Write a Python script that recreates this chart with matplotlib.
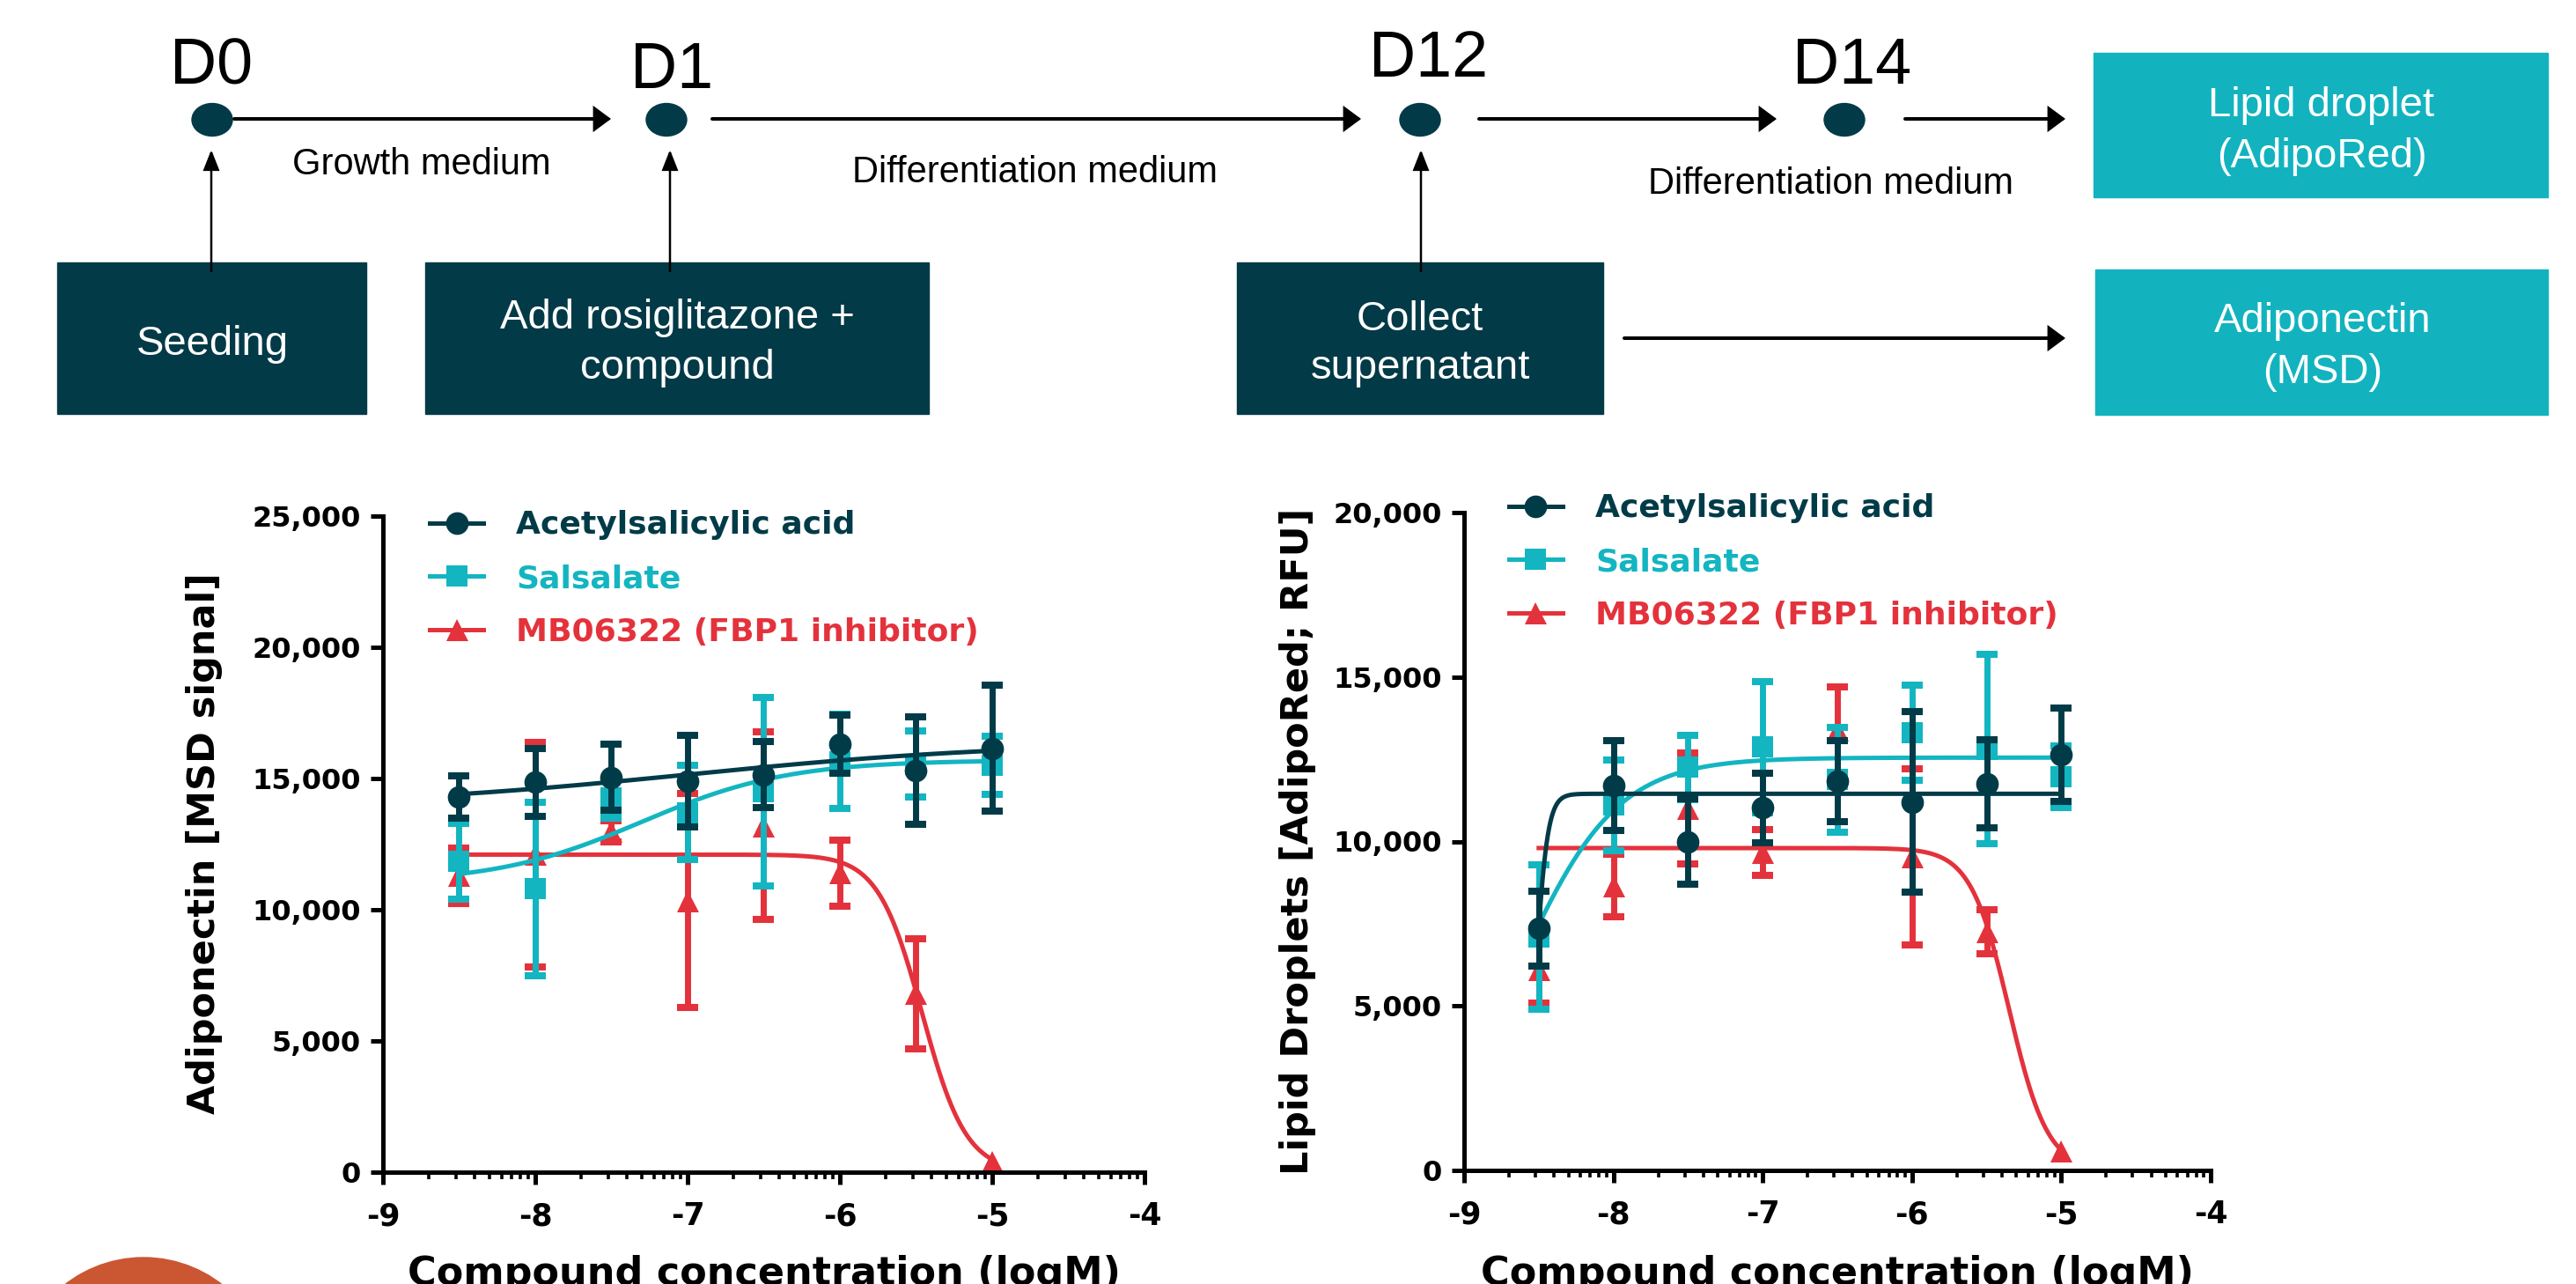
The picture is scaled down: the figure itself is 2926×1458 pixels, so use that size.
import numpy as np
import matplotlib
matplotlib.use('Agg')
import matplotlib.pyplot as plt
from matplotlib.patches import Rectangle, Ellipse, Circle, FancyArrowPatch
from matplotlib.lines import Line2D
from matplotlib.ticker import FixedLocator, FuncFormatter

# --- Configuration ---
W, H, DPI = 2926, 1458, 100
DARK = '#023b48'
CYAN = '#13b5c1'
RED = '#e4323c'
BOX_DARK = '#033a47'
BOX_TEAL = '#12b3bf'
ORANGE = '#cb5632'
NAN = float('nan')

plt.rcParams['font.family'] = 'DejaVu Sans'
plt.rcParams['axes.unicode_minus'] = False

# --- Data (log10 of molar concentration) ---
log_conc = [-8.5, -8.0, -7.5, -7.0, -6.5, -6.0, -5.5, -5.0]
series_labels = ['Acetylsalicylic acid', 'Salsalate', 'MB06322 (FBP1 inhibitor)']

# Adiponectin [MSD signal]: mean and SD
adipo_asa = [14300, 14850, 15050, 14900, 15150, 16300, 15300, 16150]
adipo_asa_err = [800, 1300, 1250, 1750, 1250, 1100, 2050, 2400]
adipo_sal = [11850, 10800, 14000, 13700, 14500, 15650, 15550, 15500]
adipo_sal_err = [1450, 3300, 520, 1800, 3600, 1800, 1250, 1100]
adipo_mb = [11300, 12100, 13000, 10350, 13200, 11400, 6800, 400]
adipo_mb_err = [1050, 4280, 400, 4080, 3580, 1260, 2100, NAN]

# Lipid droplets [AdipoRed; RFU]: mean and SD
lipid_asa = [7350, 11700, 10000, 11020, 11830, 11200, 11750, 12630]
lipid_asa_err = [1150, 1360, 1290, 1060, 1240, 2750, 1330, 1420]
lipid_sal = [7100, 11100, 12250, 12870, 11880, 13300, 12800, 11960]
lipid_sal_err = [2200, 1380, 980, 2000, 1600, 1450, 2880, 940]
lipid_mb = [6100, 8650, 11000, 9670, 13400, 9530, 7250, 600]
lipid_mb_err = [1000, 950, 1690, 690, 1300, 2680, 670, NAN]

# fitted 4PL curves: bottom, top, logEC50, hill slope
adipo_fit_asa = (13900, 16400, -7.0, 0.4)
adipo_fit_sal = (11000, 15700, -7.3, 0.9)
adipo_fit_mb = (0, 12100, -5.46, -3.0)
lipid_fit_asa = (0, 11450, -8.524, 10.7)
lipid_fit_sal = (0, 12550, -8.626, 1.33)
lipid_fit_mb = (0, 9800, -5.35, -3.36)


def four_pl(x, bottom, top, logec50, hill):
    return bottom + (top - bottom) / (1 + 10 ** ((logec50 - x) * hill))


fig = plt.figure(figsize=(W / DPI, H / DPI), dpi=DPI)
fig.patch.set_facecolor('white')

# --- Workflow diagram (pixel coordinates, y down) ---
bg = fig.add_axes([0, 0, 1, 1], zorder=0)
bg.set_xlim(0, W)
bg.set_ylim(H, 0)
bg.axis('off')

DIAG_FONT = 'Liberation Sans'

for name, x, base in [('D0', 240, 95), ('D1', 763, 100), ('D12', 1623, 87), ('D14', 2104, 95)]:
    bg.text(x, base, name, fontsize=53, family=DIAG_FONT, ha='center', va='baseline', color='black')

for x in [241, 757, 1613, 2095]:
    bg.add_patch(Ellipse((x, 136), 46, 37, color=BOX_DARK, zorder=3))


def arrow(p0, p1, lw=2.9, hl=10.8, hw=8.0):
    bg.add_patch(FancyArrowPatch(p0, p1, arrowstyle=f'-|>,head_length={hl},head_width={hw}',
                                 mutation_scale=1, lw=lw, color='black', shrinkA=0, shrinkB=0,
                                 joinstyle='miter', zorder=4))


for x0, x1 in [(266, 694), (809, 1546), (1680, 2018), (2164, 2346)]:
    arrow((x0, 135), (x1, 135))
arrow((1845, 384), (2346, 384))
for x in [240, 761, 1614]:
    arrow((x, 308), (x, 170), lw=1.8, hl=14, hw=5.5)

for txt, x, base in [('Growth medium', 479, 198), ('Differentiation medium', 1176, 207),
                     ('Differentiation medium', 2080, 220)]:
    bg.text(x, base, txt, fontsize=30, family=DIAG_FONT, ha='center', va='baseline')

boxes = [
    ((65, 298, 416, 470), BOX_DARK, [('Seeding', 403)], 241),
    ((483, 298, 1055, 470), BOX_DARK, [('Add rosiglitazone +', 373), ('compound', 430)], 769),
    ((1405, 298, 1821, 470), BOX_DARK, [('Collect', 375), ('supernatant', 430)], 1613),
    ((2378, 60, 2894, 224), BOX_TEAL, [('Lipid droplet', 132), ('(AdipoRed)', 190)], 2637),
    ((2380, 306, 2894, 471), BOX_TEAL, [('Adiponectin', 377), ('(MSD)', 435)], 2638),
]
for (x0, y0, x1, y1), col, lines, cx in boxes:
    bg.add_patch(Rectangle((x0, y0), x1 - x0, y1 - y0, color=col, zorder=2))
    for txt, base in lines:
        bg.text(cx, base, txt, fontsize=34, family=DIAG_FONT, color='white',
                ha='center', va='baseline', zorder=5)

# decorative circle in the lower left corner
bg.add_patch(Circle((163, 1573), 145, color=ORANGE, zorder=1))

# --- Dose-response panels ---
styles = [(RED, '^', 18, 2), (CYAN, 's', 17, 3), (DARK, 'o', 18.5, 4)]
minor_ticks = [d + np.log10(k) for d in range(-9, -4) for k in range(2, 10)]


def draw_panel(rect, series, fits, ymax, ystep, legend_anchor):
    ax = fig.add_axes(rect, zorder=2)
    ax.patch.set_alpha(0)
    xs = np.linspace(log_conc[0], log_conc[-1], 400)
    for (vals, errs), fit, (col, mk, ms, z) in zip(series, fits, styles):
        ax.plot(xs, four_pl(xs, *fit), color=col, lw=3.6, zorder=z)
        eb = ax.errorbar(log_conc, vals, yerr=errs, fmt=mk, ms=ms, color=col, ecolor=col,
                         elinewidth=5, capsize=8.3, capthick=5.8, zorder=z + 0.1)
        eb[0].set_markeredgewidth(0)
        for cap in eb[1]:
            cap.set_markeredgewidth(5.8)

    ax.set_xlim(-9, -4)
    ax.set_ylim(0, ymax)
    for s in ['top', 'right']:
        ax.spines[s].set_visible(False)
    for s in ['left', 'bottom']:
        ax.spines[s].set_linewidth(3.6)
    ax.set_xticks(range(-9, -3))
    ax.xaxis.set_minor_locator(FixedLocator(minor_ticks))
    ax.set_yticks(np.arange(0, ymax + 1, ystep))
    ax.xaxis.set_major_formatter(FuncFormatter(lambda v, _: f'{v:.0f}'))
    ax.yaxis.set_major_formatter(FuncFormatter(lambda v, _: f'{v:,.0f}'))
    ax.tick_params(axis='both', which='major', direction='out', length=10, width=3.6,
                   labelsize=23)
    ax.tick_params(axis='x', which='major', labelsize=25, pad=14)
    ax.tick_params(axis='y', which='major', pad=8)
    ax.tick_params(axis='x', which='minor', direction='out', length=6, width=2.6)
    for lab in ax.get_xticklabels() + ax.get_yticklabels():
        lab.set_fontweight('bold')

    handles = [Line2D([0], [0], color=col, marker=mk, ms=ms, lw=3.6, mew=0)
               for col, mk, ms, z in reversed(styles)]
    leg = ax.legend(handles, series_labels, loc='upper left', bbox_to_anchor=legend_anchor,
                    frameon=False, borderpad=0, borderaxespad=0, handlelength=1.69,
                    handletextpad=1.03, labelspacing=0.74, numpoints=1,
                    prop={'weight': 'bold', 'size': 26})
    for t, (col, mk, ms, z) in zip(leg.get_texts(), reversed(styles)):
        t.set_color(col)
    return ax


draw_panel([435 / W, 127 / H, 865 / W, 745 / H],
           [(adipo_mb, adipo_mb_err), (adipo_sal, adipo_sal_err), (adipo_asa, adipo_asa_err)],
           [adipo_fit_mb, adipo_fit_sal, adipo_fit_asa], 25000, 5000, (0.0613, 1.009))
draw_panel([1663 / W, 129 / H, 848 / W, 747 / H],
           [(lipid_mb, lipid_mb_err), (lipid_sal, lipid_sal_err), (lipid_asa, lipid_asa_err)],
           [lipid_fit_mb, lipid_fit_sal, lipid_fit_asa], 20000, 5000, (0.0601, 1.029))

# axis titles
fig.text(232 / W, 1 - 958 / H, 'Adiponectin [MSD signal]', rotation=90, ha='center',
         va='center', fontsize=31, fontweight='bold')
fig.text(1474 / W, 1 - 955 / H, 'Lipid Droplets [AdipoRed; RFU]', rotation=90, ha='center',
         va='center', fontsize=31, fontweight='bold')
for cx in [868, 2087]:
    fig.text(cx / W, -1 / H, 'Compound concentration (logM)', ha='center', va='baseline',
             fontsize=32, fontweight='bold')

fig.savefig('out.png', dpi=DPI)
